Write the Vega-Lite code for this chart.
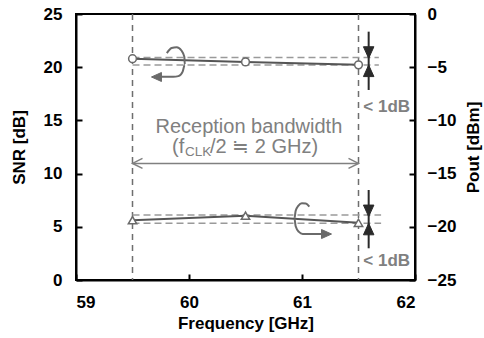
{
  "$schema": "https://vega.github.io/schema/vega-lite/v6.json",
  "width": 339,
  "height": 266,
  "autosize": {"type": "none"},
  "padding": {"left": 76, "top": 14, "right": 69, "bottom": 58},
  "config": {
    "font": "Liberation Sans",
    "view": {"stroke": "#000", "strokeWidth": 2},
    "axis": {
      "grid": false,
      "domainColor": "#000",
      "domainWidth": 2,
      "tickColor": "#000",
      "tickWidth": 2,
      "tickSize": -6,
      "labelFont": "Liberation Sans",
      "labelFontWeight": "bold",
      "labelFontSize": 17,
      "labelColor": "#000",
      "titleFont": "Liberation Sans",
      "titleFontWeight": "bold",
      "titleFontSize": 17,
      "titleColor": "#000"
    }
  },
  "datasets": {
    "vlines": [{"f": 59.5}, {"f": 61.5}],
    "snr": [
      {"freq": 59.5, "snr": 20.8},
      {"freq": 60.5, "snr": 20.5},
      {"freq": 61.5, "snr": 20.22}
    ],
    "pout": [
      {"freq": 59.5, "pout": -19.38},
      {"freq": 60.5, "pout": -18.95},
      {"freq": 61.5, "pout": -19.62}
    ],
    "snrBand": [
      {"x1": 59.5, "x2": 61.68, "y": 20.92},
      {"x1": 59.5, "x2": 61.68, "y": 20.2}
    ],
    "poutBand": [
      {"x1": 59.5, "x2": 61.7, "y": -18.9},
      {"x1": 59.5, "x2": 61.7, "y": -19.66}
    ],
    "bw": [{"x1": 59.5, "x2": 61.5, "y": 10.96}],
    "bwHeadL": [{"x": 59.5, "y": 10.96}],
    "bwHeadR": [{"x": 61.5, "y": 10.96}],
    "snrMark": [{"x": 61.59, "y1": 23.34, "y2": 17.86}],
    "snrHeadDown": [{"x": 61.59, "y": 21.38}],
    "snrHeadUp": [{"x": 61.59, "y": 19.66}],
    "poutMark": [{"x": 61.59, "y1": -16.54, "y2": -22.02}],
    "poutHeadDown": [{"x": 61.59, "y": -18.5}],
    "poutHeadUp": [{"x": 61.59, "y": -20.21}],
    "snrLabel": [{"x": 61.543, "y": 15.76, "t": "< 1dB"}],
    "poutLabel": [{"x": 61.543, "y": -23.68, "t": "< 1dB"}],
    "bwText1": [{"x": 60.53, "y": 13.79, "t": "Reception bandwidth"}],
    "bwText2a": [{"x": 59.85, "y": 11.91, "t": "(f"}, {"x": 60.186, "y": 11.91, "t": "/2 ≒ 2 GHz)"}],
    "bwText2b": [{"x": 59.965, "y": 11.65, "t": "CLK"}],
    "snrArc": [
      {"i": 1, "x": 59.804, "y": 21.32},
      {"i": 2, "x": 59.846, "y": 21.81},
      {"i": 3, "x": 59.891, "y": 21.88},
      {"i": 4, "x": 59.933, "y": 21.57},
      {"i": 5, "x": 59.959, "y": 20.97},
      {"i": 6, "x": 59.963, "y": 20.24},
      {"i": 7, "x": 59.944, "y": 19.59},
      {"i": 8, "x": 59.906, "y": 19.16},
      {"i": 9, "x": 59.861, "y": 19.1},
      {"i": 10, "x": 59.743, "y": 19.1}
    ],
    "snrArcHead": [{"x": 59.712, "y": 19.08}],
    "poutArc": [
      {"i": 1, "x": 61.065, "y": -18.1},
      {"i": 2, "x": 61.034, "y": -17.81},
      {"i": 3, "x": 60.999, "y": -17.78},
      {"i": 4, "x": 60.967, "y": -18.03},
      {"i": 5, "x": 60.944, "y": -18.49},
      {"i": 6, "x": 60.933, "y": -19.22},
      {"i": 7, "x": 60.944, "y": -19.95},
      {"i": 8, "x": 60.973, "y": -20.48},
      {"i": 9, "x": 61.006, "y": -20.67},
      {"i": 10, "x": 61.177, "y": -20.68}
    ],
    "poutArcHead": [{"x": 61.217, "y": -20.68}]
  },
  "layer": [
    {
      "layer": [
        {
          "data": {"name": "vlines"},
          "mark": {"type": "rule", "color": "#6e6e6e", "strokeWidth": 1.5, "strokeDash": [6, 5]},
          "encoding": {
            "x": {
              "field": "f", "type": "quantitative",
              "scale": {"domain": [59, 62], "zero": false, "nice": false},
              "axis": {"values": [59, 60, 61, 62], "format": "d", "title": "Frequency [GHz]", "labelPadding": 20, "titlePadding": 5}
            }
          }
        },
        {
          "data": {"name": "snrBand"},
          "mark": {"type": "rule", "color": "#9a9a9a", "strokeWidth": 1.5, "strokeDash": [7, 4]},
          "encoding": {
            "x": {"field": "x1", "type": "quantitative"},
            "x2": {"field": "x2"},
            "y": {"field": "y", "type": "quantitative", "scale": {"domain": [0, 25], "nice": false},
              "axis": {"orient": "left", "values": [0, 5, 10, 15, 20, 25], "title": "SNR [dB]", "labelPadding": 20, "titlePadding": 15}}
          }
        },
        {
          "data": {"name": "snr"},
          "mark": {"type": "line", "color": "#555555", "strokeWidth": 2},
          "encoding": {
            "x": {"field": "freq", "type": "quantitative"},
            "y": {"field": "snr", "type": "quantitative"}
          }
        },
        {
          "data": {"name": "snr"},
          "mark": {"type": "point", "shape": "circle", "filled": true, "fill": "#ffffff", "stroke": "#6a6a6a", "strokeWidth": 1.5, "size": 60, "opacity": 1},
          "encoding": {
            "x": {"field": "freq", "type": "quantitative"},
            "y": {"field": "snr", "type": "quantitative"}
          }
        },
        {
          "data": {"name": "bw"},
          "mark": {"type": "rule", "color": "#808080", "strokeWidth": 1.5},
          "encoding": {
            "x": {"field": "x1", "type": "quantitative"},
            "x2": {"field": "x2"},
            "y": {"field": "y", "type": "quantitative"}
          }
        },
        {
          "data": {"name": "bwHeadL"},
          "mark": {"type": "point", "filled": false, "stroke": "#808080", "strokeWidth": 1.5, "size": 400, "opacity": 1, "shape": "M1,-0.5L0,0L1,0.5"},
          "encoding": {
            "x": {"field": "x", "type": "quantitative"},
            "y": {"field": "y", "type": "quantitative"}
          }
        },
        {
          "data": {"name": "bwHeadR"},
          "mark": {"type": "point", "filled": false, "stroke": "#808080", "strokeWidth": 1.5, "size": 400, "opacity": 1, "shape": "M-1,-0.5L0,0L-1,0.5"},
          "encoding": {
            "x": {"field": "x", "type": "quantitative"},
            "y": {"field": "y", "type": "quantitative"}
          }
        },
        {
          "data": {"name": "snrMark"},
          "mark": {"type": "rule", "color": "#2a2a2a", "strokeWidth": 2},
          "encoding": {
            "x": {"field": "x", "type": "quantitative"},
            "y": {"field": "y1", "type": "quantitative"},
            "y2": {"field": "y2"}
          }
        },
        {
          "data": {"name": "snrHeadDown"},
          "mark": {"type": "point", "filled": true, "fill": "#2a2a2a", "stroke": "#2a2a2a", "strokeWidth": 1, "size": 110, "opacity": 1, "shape": "M-1,-1.1L1,-1.1L0,1.1Z"},
          "encoding": {
            "x": {"field": "x", "type": "quantitative"},
            "y": {"field": "y", "type": "quantitative"}
          }
        },
        {
          "data": {"name": "snrHeadUp"},
          "mark": {"type": "point", "filled": true, "fill": "#2a2a2a", "stroke": "#2a2a2a", "strokeWidth": 1, "size": 110, "opacity": 1, "shape": "M-1,1.1L1,1.1L0,-1.1Z"},
          "encoding": {
            "x": {"field": "x", "type": "quantitative"},
            "y": {"field": "y", "type": "quantitative"}
          }
        },
        {
          "data": {"name": "snrLabel"},
          "mark": {"type": "text", "align": "left", "baseline": "alphabetic", "fontSize": 17, "fontWeight": "bold", "color": "#808080"},
          "encoding": {
            "x": {"field": "x", "type": "quantitative"},
            "y": {"field": "y", "type": "quantitative"},
            "text": {"field": "t"}
          }
        },
        {
          "data": {"name": "bwText1"},
          "mark": {"type": "text", "align": "center", "baseline": "alphabetic", "fontSize": 20, "color": "#808080"},
          "encoding": {
            "x": {"field": "x", "type": "quantitative"},
            "y": {"field": "y", "type": "quantitative"},
            "text": {"field": "t"}
          }
        },
        {
          "data": {"name": "bwText2a"},
          "mark": {"type": "text", "align": "left", "baseline": "alphabetic", "fontSize": 20, "color": "#808080"},
          "encoding": {
            "x": {"field": "x", "type": "quantitative"},
            "y": {"field": "y", "type": "quantitative"},
            "text": {"field": "t"}
          }
        },
        {
          "data": {"name": "bwText2b"},
          "mark": {"type": "text", "align": "left", "baseline": "alphabetic", "fontSize": 13.5, "color": "#808080"},
          "encoding": {
            "x": {"field": "x", "type": "quantitative"},
            "y": {"field": "y", "type": "quantitative"},
            "text": {"field": "t"}
          }
        },
        {
          "data": {"name": "snrArc"},
          "mark": {"type": "line", "color": "#6a6a6a", "strokeWidth": 2, "interpolate": "monotone"},
          "encoding": {
            "x": {"field": "x", "type": "quantitative"},
            "y": {"field": "y", "type": "quantitative"},
            "order": {"field": "i"}
          }
        },
        {
          "data": {"name": "snrArcHead"},
          "mark": {"type": "point", "filled": true, "fill": "#6a6a6a", "stroke": "#6a6a6a", "strokeWidth": 1, "size": 100, "opacity": 1, "shape": "M1,-0.9L1,0.9L-1,0Z"},
          "encoding": {
            "x": {"field": "x", "type": "quantitative"},
            "y": {"field": "y", "type": "quantitative"}
          }
        }
      ]
    },
    {
      "layer": [
        {
          "data": {"name": "poutBand"},
          "mark": {"type": "rule", "color": "#9a9a9a", "strokeWidth": 1.5, "strokeDash": [7, 4]},
          "encoding": {
            "x": {"field": "x1", "type": "quantitative"},
            "x2": {"field": "x2"},
            "y": {"field": "y", "type": "quantitative", "scale": {"domain": [-25, 0], "nice": false},
              "axis": {"orient": "right", "values": [-25, -20, -15, -10, -5, 0], "title": "Pout [dBm]", "titleAngle": 270, "labelPadding": 18, "titlePadding": 27}}
          }
        },
        {
          "data": {"name": "pout"},
          "mark": {"type": "line", "color": "#555555", "strokeWidth": 2},
          "encoding": {
            "x": {"field": "freq", "type": "quantitative"},
            "y": {"field": "pout", "type": "quantitative"}
          }
        },
        {
          "data": {"name": "pout"},
          "mark": {"type": "point", "shape": "triangle-up", "filled": true, "fill": "#ffffff", "stroke": "#6a6a6a", "strokeWidth": 1.5, "size": 70, "opacity": 1},
          "encoding": {
            "x": {"field": "freq", "type": "quantitative"},
            "y": {"field": "pout", "type": "quantitative"}
          }
        },
        {
          "data": {"name": "poutMark"},
          "mark": {"type": "rule", "color": "#2a2a2a", "strokeWidth": 2},
          "encoding": {
            "x": {"field": "x", "type": "quantitative"},
            "y": {"field": "y1", "type": "quantitative"},
            "y2": {"field": "y2"}
          }
        },
        {
          "data": {"name": "poutHeadDown"},
          "mark": {"type": "point", "filled": true, "fill": "#2a2a2a", "stroke": "#2a2a2a", "strokeWidth": 1, "size": 110, "opacity": 1, "shape": "M-1,-1.1L1,-1.1L0,1.1Z"},
          "encoding": {
            "x": {"field": "x", "type": "quantitative"},
            "y": {"field": "y", "type": "quantitative"}
          }
        },
        {
          "data": {"name": "poutHeadUp"},
          "mark": {"type": "point", "filled": true, "fill": "#2a2a2a", "stroke": "#2a2a2a", "strokeWidth": 1, "size": 110, "opacity": 1, "shape": "M-1,1.1L1,1.1L0,-1.1Z"},
          "encoding": {
            "x": {"field": "x", "type": "quantitative"},
            "y": {"field": "y", "type": "quantitative"}
          }
        },
        {
          "data": {"name": "poutLabel"},
          "mark": {"type": "text", "align": "left", "baseline": "alphabetic", "fontSize": 17, "fontWeight": "bold", "color": "#808080"},
          "encoding": {
            "x": {"field": "x", "type": "quantitative"},
            "y": {"field": "y", "type": "quantitative"},
            "text": {"field": "t"}
          }
        },
        {
          "data": {"name": "poutArc"},
          "mark": {"type": "line", "color": "#6a6a6a", "strokeWidth": 2, "interpolate": "monotone"},
          "encoding": {
            "x": {"field": "x", "type": "quantitative"},
            "y": {"field": "y", "type": "quantitative"},
            "order": {"field": "i"}
          }
        },
        {
          "data": {"name": "poutArcHead"},
          "mark": {"type": "point", "filled": true, "fill": "#6a6a6a", "stroke": "#6a6a6a", "strokeWidth": 1, "size": 100, "opacity": 1, "shape": "M-1,-0.9L-1,0.9L1,0Z"},
          "encoding": {
            "x": {"field": "x", "type": "quantitative"},
            "y": {"field": "y", "type": "quantitative"}
          }
        }
      ]
    }
  ],
  "resolve": {"scale": {"y": "independent"}}
}
